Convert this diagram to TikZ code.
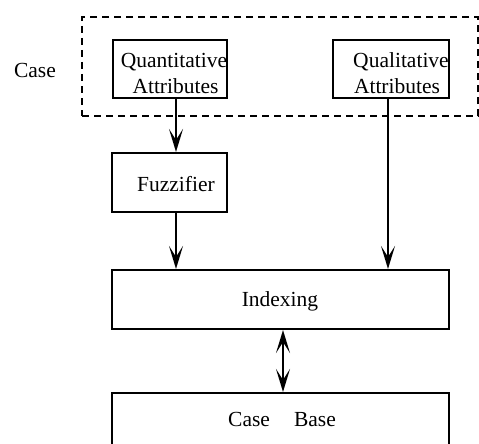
\documentclass[tikz,border=0pt]{standalone}
\usepackage{fontspec}
\setmainfont{Liberation Serif}
\usetikzlibrary{arrows.meta}
\begin{document}
\begin{tikzpicture}[x=1pt,y=-1pt,
  box/.style={draw,line width=2.1pt,rectangle,inner sep=0pt},
  lbl/.style={anchor=base,inner sep=0pt,font=\fontsize{21.5}{23}\selectfont},
  arr/.style={line width=2pt,-{Stealth[length=23pt,width=14pt,inset=11pt]}},
  darr/.style={line width=2pt,{Stealth[length=23pt,width=14pt,inset=11pt]}-{Stealth[length=23pt,width=14pt,inset=11pt]}},
  casebox/.style={draw,line width=2pt,dash pattern=on 7pt off 5pt}]
\useasboundingbox (0,0) rectangle (479,444);
\node[casebox,rectangle,inner sep=0pt,minimum width=396pt,minimum height=99pt] (case) at (280,66.5) {};
\node[lbl] (caselbl) at (35,77.5) {Case};
\node[box,minimum width=114pt,minimum height=58pt] (quant) at (170,69) {};
\node[box,minimum width=116pt,minimum height=58pt] (qual) at (391,69) {};
\node[box,minimum width=115pt,minimum height=59pt] (fuzz) at (169.5,182.5) {};
\node[box,minimum width=337pt,minimum height=59pt] (index) at (280.5,299.5) {};
\node[box,minimum width=337pt,minimum height=70pt] (cbase) at (280.5,428) {};
\node[lbl] (t1) at (174,67) {Quantitative};
\node[lbl] (t2) at (175.5,93) {Attributes};
\node[lbl] (t3) at (401,67) {Qualitative};
\node[lbl] (t4) at (397,93) {Attributes};
\node[lbl] (t5) at (176,191) {Fuzzifier};
\node[lbl] (t6) at (280,306) {Indexing};
\node[lbl] (t7) at (282,426) {Case\hspace{24pt}Base};
\coordinate (lx) at (176,0);
\coordinate (rx) at (388,0);
\coordinate (mx) at (283,0);
\draw[arr] (quant.south -| lx) -- (fuzz.north -| lx);
\draw[arr] (fuzz.south -| lx) -- (index.north -| lx);
\draw[arr] (qual.south -| rx) -- (index.north -| rx);
\draw[darr] (index.south -| mx) -- (cbase.north -| mx);
\end{tikzpicture}
\end{document}
